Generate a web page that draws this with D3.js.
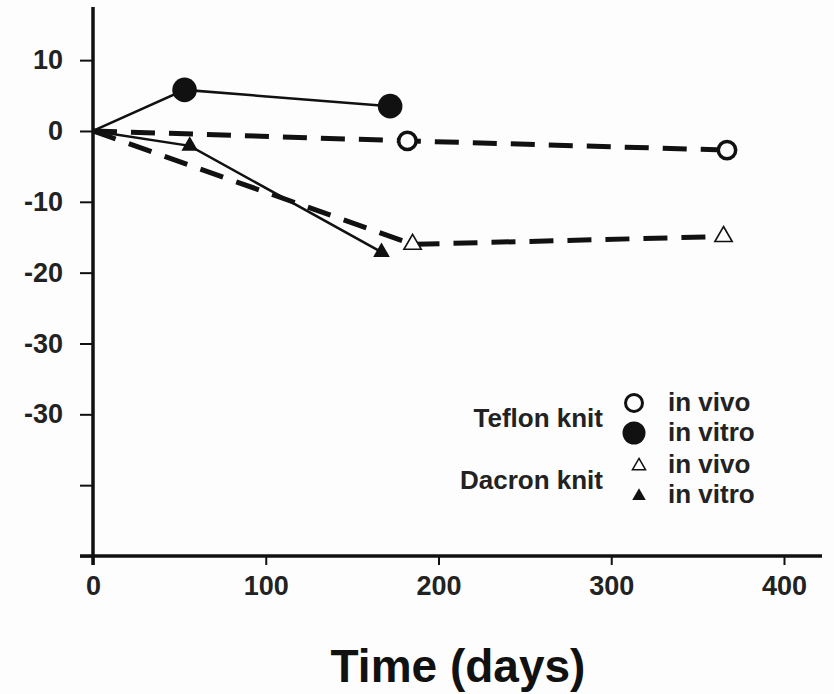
<!DOCTYPE html>
<html>
<head>
<meta charset="utf-8">
<script src="https://cdn.jsdelivr.net/npm/d3@7"></script>
<style>
  body { margin: 0; background: #fdfdfd; }
  svg { display: block; font-family: "Liberation Sans", Arial, sans-serif; font-weight: bold; }
</style>
</head>
<body>
<svg id="chart" width="834" height="694"></svg>
<script>
//
// Data
//

// days
var teflonVitroX = [0, 53, 172]
var teflonVitroY = [0, 5.8, 3.5]
var teflonVivoX = [0, 182, 367]
var teflonVivoY = [0, -1.4, -2.7]
var dacronVitroX = [0, 56, 167]
var dacronVitroY = [0, -2.1, -17.1]
var dacronVivoX = [0, 185, 365]
var dacronVivoY = [0, -16.0, -14.9]

var xTicks = [0, 100, 200, 300, 400]
var yTicks = [10, 0, -10, -20, -30, -40, -50, -60]
// labels as printed (the second -30 is in the original)
var yTickLabels = ['10', '0', '-10', '-20', '-30', '-30', '', '']

var legendGroups = ['Teflon knit', 'Dacron knit']
var legendItems = ['in vivo', 'in vitro']

//
// Setup
//

var svg = d3.select('#chart')
var ink = '#111'

var x = d3.scaleLinear().domain([0, 422]).range([93, 822])
var y = d3.scaleLinear().domain([-60, 17.5]).range([556, 7])

function pts(xs, ys) {
  return xs.map(function(d, i) { return [d, ys[i]] })
}

var line = d3.line()
  .x(function(d) { return x(d[0]) })
  .y(function(d) { return y(d[1]) })

// axes
var yAxis = d3.axisLeft(y)
  .tickValues(yTicks)
  .tickFormat(function(d, i) { return yTickLabels[i] })
  .tickSize(13)
  .tickSizeOuter(0)
  .tickPadding(17)

var xAxis = d3.axisBottom(x)
  .tickValues(xTicks)
  .tickFormat(d3.format('d'))
  .tickSize(9)
  .tickSizeOuter(0)
  .tickPadding(11)

var gy = svg.append('g')
  .attr('transform', 'translate(' + x(0) + ',0)')
  .call(yAxis)

var gx = svg.append('g')
  .attr('transform', 'translate(0,' + y(-60) + ')')
  .call(xAxis)

gy.select('.domain').attr('d', 'M0,' + y(17.5) + 'V' + (y(-60) + 9))
gx.select('.domain').attr('d', 'M' + (x(0) - 13) + ',0H' + x(422))

svg.selectAll('.domain').attr('stroke', ink).attr('stroke-width', 3.5)
svg.selectAll('.tick line').attr('stroke', ink).attr('stroke-width', 2)
svg.selectAll('.tick text')
  .attr('fill', '#222')
  .attr('font-size', 27)
  .attr('font-weight', 'bold')
  .attr('font-family', '"Liberation Sans", Arial, sans-serif')

//
// Lines
//

function drawLine(data, dashed) {
  svg.append('path')
    .datum(data)
    .attr('d', line)
    .attr('fill', 'none')
    .attr('stroke', ink)
    .attr('stroke-width', dashed ? 5 : 2.5)
    .attr('stroke-dasharray', dashed ? '24,14' : null)
}

drawLine(pts(teflonVivoX, teflonVivoY), true)
drawLine(pts(dacronVivoX, dacronVivoY), true)
drawLine(pts(teflonVitroX, teflonVitroY), false)
drawLine(pts(dacronVitroX, dacronVitroY), false)

//
// Markers
//

var triFilled = d3.symbol().type(d3.symbolTriangle).size(120)
var triOpen = d3.symbol().type(d3.symbolTriangle).size(130)

function circles(data, filled) {
  svg.selectAll(null)
    .data(data.slice(1))
    .enter().append('circle')
    .attr('cx', function(d) { return x(d[0]) })
    .attr('cy', function(d) { return y(d[1]) })
    .attr('r', filled ? 12.3 : 8.7)
    .attr('fill', filled ? ink : '#fdfdfd')
    .attr('stroke', ink)
    .attr('stroke-width', filled ? 0 : 3.5)
}

function triangles(data, filled) {
  svg.selectAll(null)
    .data(data.slice(1))
    .enter().append('path')
    .attr('d', filled ? triFilled : triOpen)
    .attr('transform', function(d) { return 'translate(' + x(d[0]) + ',' + y(d[1]) + ')' })
    .attr('fill', filled ? ink : '#fdfdfd')
    .attr('stroke', ink)
    .attr('stroke-width', filled ? 0 : 1.6)
}

circles(pts(teflonVitroX, teflonVitroY), true)
circles(pts(teflonVivoX, teflonVivoY), false)
triangles(pts(dacronVitroX, dacronVitroY), true)
triangles(pts(dacronVivoX, dacronVivoY), false)

//
// Legend
//

var legend = svg.append('g').attr('font-size', 26).attr('fill', '#222')
var groupY = [418, 480]

legendGroups.forEach(function(name, gi) {
  var cy = groupY[gi]
  legend.append('text')
    .attr('x', 603).attr('y', cy).attr('dy', '0.36em')
    .attr('text-anchor', 'end')
    .text(name)
  legendItems.forEach(function(item, ii) {
    var iy = cy - 15 + ii * 30
    var filled = ii === 1
    if (gi === 0) {
      legend.append('circle')
        .attr('cx', 634).attr('cy', iy)
        .attr('r', filled ? 11.5 : 8.5)
        .attr('fill', filled ? ink : '#fdfdfd')
        .attr('stroke', ink)
        .attr('stroke-width', filled ? 0 : 3)
    } else {
      legend.append('path')
        .attr('d', d3.symbol().type(d3.symbolTriangle).size(filled ? 80 : 75))
        .attr('transform', 'translate(639,' + (iy + 1) + ')')
        .attr('fill', filled ? ink : '#fdfdfd')
        .attr('stroke', ink)
        .attr('stroke-width', filled ? 0 : 1.5)
    }
    legend.append('text')
      .attr('x', 668).attr('y', iy).attr('dy', '0.32em')
      .text(item)
  })
})

// axis title
svg.append('text')
  .attr('x', 458).attr('y', 682)
  .attr('text-anchor', 'middle')
  .attr('font-size', 46)
  .attr('fill', '#111')
  .text('Time (days)')
</script>
</body>
</html>
